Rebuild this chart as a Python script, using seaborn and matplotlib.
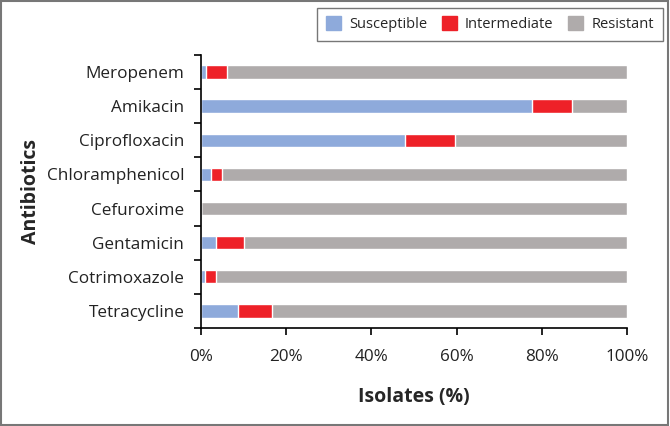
import pandas as pd
import matplotlib.pyplot as plt
import seaborn as sns
from matplotlib.patches import Patch, Rectangle
from matplotlib.ticker import PercentFormatter

# data (percent of isolates)
antibiotics = ['Meropenem', 'Amikacin', 'Ciprofloxacin', 'Chloramphenicol',
               'Cefuroxime', 'Gentamicin', 'Cotrimoxazole', 'Tetracycline']
susceptible = [1.2, 77.6, 47.9, 2.3, 0.0, 3.6, 1.0, 8.8]
intermediate = [5.0, 9.4, 11.7, 2.6, 0.0, 6.5, 2.6, 7.9]
resistant = [93.8, 13.0, 40.4, 95.1, 100.0, 89.9, 96.4, 83.3]

c_sus = '#8eaadb'
c_int = '#ee2128'
c_res = '#afabab'

df = pd.DataFrame({'Antibiotic': antibiotics, 'S': susceptible,
                   'I': intermediate, 'R': resistant})
df['SI'] = df['S'] + df['I']
df['SIR'] = df['SI'] + df['R']

sns.set_style('white')
plt.rcParams['font.family'] = ['Open Sans', 'DejaVu Sans']

fig = plt.figure(figsize=(6.7, 4.26), dpi=100)
ax = fig.add_axes([0.300, 0.230, 0.636, 0.641])

# stacked bars: draw cumulative totals back to front
bw = 0.39
sns.barplot(data=df, x='SIR', y='Antibiotic', color=c_res, width=bw, ax=ax, saturation=1)
sns.barplot(data=df, x='SI', y='Antibiotic', color=c_int, width=bw, ax=ax, saturation=1)
sns.barplot(data=df, x='S', y='Antibiotic', color=c_sus, width=bw, ax=ax, saturation=1)

ax.set_xlim(0, 100)
ax.set_ylim(len(antibiotics) - 0.5, -0.5)
ax.set_xticks([0, 20, 40, 60, 80, 100])
ax.xaxis.set_major_formatter(PercentFormatter(decimals=0))

# excel-style ticks between categories
ax.set_yticks(range(len(antibiotics)))
ax.set_yticks([i - 0.5 for i in range(len(antibiotics) + 1)], minor=True)
ax.tick_params(axis='y', which='major', length=0, pad=12, labelsize=12.3, colors='#222222')
ax.tick_params(axis='y', which='minor', length=5, width=1.2, color='black', left=True)
ax.tick_params(axis='x', length=5, width=1.2, color='black', bottom=True, pad=10,
               labelsize=12.3, colors='#222222')

for s in ['top', 'right']:
    ax.spines[s].set_visible(False)
for s in ['left', 'bottom']:
    ax.spines[s].set_color('black')
    ax.spines[s].set_linewidth(1.2)

ax.set_xlabel('Isolates (%)', fontsize=14, fontweight='bold', labelpad=16)
ax.set_ylabel('Antibiotics', fontsize=14, fontweight='bold')
ax.yaxis.set_label_coords(-0.375, 0.5)

handles = [Patch(color=c_sus, label='Susceptible'),
           Patch(color=c_int, label='Intermediate'),
           Patch(color=c_res, label='Resistant')]
leg = fig.legend(handles=handles, ncol=3, loc='upper right',
                 bbox_to_anchor=(0.989, 0.982), frameon=True, fancybox=False,
                 fontsize=10.5, handlelength=1.05, handleheight=1.05,
                 handletextpad=0.55, columnspacing=1.0, borderpad=0.6,
                 borderaxespad=0)
leg.get_frame().set_edgecolor('#555555')
leg.get_frame().set_linewidth(1.0)

# outer frame around the whole figure
fig.patches.append(Rectangle((0.002, 0.003), 0.995, 0.994, transform=fig.transFigure,
                             fill=False, edgecolor='#777777', linewidth=1.5))

fig.savefig('out.png', dpi=100)
